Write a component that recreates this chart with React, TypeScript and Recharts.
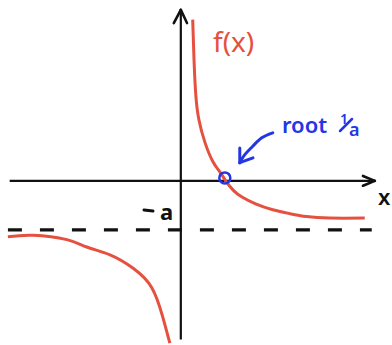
import { ComposedChart, Line, ReferenceDot, ReferenceLine, XAxis, YAxis } from 'recharts';

// f(x) = 1/x - a, sketched by hand: values sampled along each branch
const RIGHT_X = [0.27, 0.3, 0.34, 0.41, 0.55, 0.73, 0.89, 1.02, 1.2, 1.39, 1.7, 2.09, 2.48, 2.86, 3.39, 4.18];
const RIGHT_Y = [3.29, 2.47, 1.76, 1.25, 0.78, 0.39, 0.18, 0, -0.2, -0.33, -0.47, -0.59, -0.67, -0.73, -0.76, -0.76];
const LEFT_X = [-3.93, -3.36, -2.59, -2.14, -1.61, -1.09, -0.66, -0.41, -0.25];
const LEFT_Y = [-1.14, -1.11, -1.2, -1.35, -1.51, -1.78, -2.18, -2.78, -3.31];

// pointer from the "root" note down to the crossing
const POINTER_X = [2.09, 1.84, 1.64, 1.45, 1.34];
const POINTER_Y = [0.98, 0.88, 0.71, 0.53, 0.37];

const ROOT_X = 1;
const ASYMPTOTE_Y = -1;

const X_DOMAIN = [-4.11, 4.8];
const Y_DOMAIN = [-3.35, 3.69];

const rightBranch = RIGHT_X.map((x, i) => ({ x, y: RIGHT_Y[i] }));
const leftBranch = LEFT_X.map((x, i) => ({ x, y: LEFT_Y[i] }));
const pointer = POINTER_X.map((x, i) => ({ x, y: POINTER_Y[i] }));

const RED = '#e5503f';
const BLUE = '#2436e4';
const INK = '#111';
const FONT = '"Noto Sans", sans-serif';

const noDot = () => null;

export default function App() {
  return (
    <div style={{ position: 'absolute', left: 0, top: 0, width: 392, height: 345, background: '#fff' }}>
      <ComposedChart width={392} height={345} margin={{ top: 0, right: 0, bottom: 0, left: 0 }}>
        <XAxis type="number" dataKey="x" domain={X_DOMAIN} allowDataOverflow hide />
        <YAxis type="number" dataKey="y" domain={Y_DOMAIN} allowDataOverflow hide />

        {/* axes with arrowheads */}
        <ReferenceLine segment={[{ x: -3.89, y: 0 }, { x: 4.41, y: 0 }]} stroke={INK} strokeWidth={2.2} />
        <ReferenceLine segment={[{ x: 4.14, y: 0.1 }, { x: 4.41, y: 0 }]} stroke={INK} strokeWidth={2.6} strokeLinecap="round" />
        <ReferenceLine segment={[{ x: 4.14, y: -0.1 }, { x: 4.41, y: 0 }]} stroke={INK} strokeWidth={2.6} strokeLinecap="round" />
        <ReferenceLine segment={[{ x: 0, y: -3.24 }, { x: 0, y: 3.49 }]} stroke={INK} strokeWidth={2.2} />
        <ReferenceLine segment={[{ x: -0.16, y: 3.22 }, { x: 0, y: 3.49 }]} stroke={INK} strokeWidth={2.6} strokeLinecap="round" />
        <ReferenceLine segment={[{ x: 0.14, y: 3.22 }, { x: 0, y: 3.49 }]} stroke={INK} strokeWidth={2.6} strokeLinecap="round" />

        {/* horizontal asymptote y = -a */}
        <ReferenceLine
          segment={[{ x: -3.93, y: ASYMPTOTE_Y }, { x: 4.34, y: ASYMPTOTE_Y }]}
          stroke={INK}
          strokeWidth={3.2}
          strokeDasharray="14 18"
        />

        <Line data={leftBranch} dataKey="y" type="natural" stroke={RED} strokeWidth={3} dot={noDot} activeDot={false} isAnimationActive={false} />
        <Line data={rightBranch} dataKey="y" type="natural" stroke={RED} strokeWidth={3} dot={noDot} activeDot={false} isAnimationActive={false} />

        <Line data={pointer} dataKey="y" type="natural" stroke={BLUE} strokeWidth={3} dot={noDot} activeDot={false} strokeLinecap="round" isAnimationActive={false} />
        <ReferenceLine segment={[{ x: 1.34, y: 0.67 }, { x: 1.34, y: 0.37 }]} stroke={BLUE} strokeWidth={3} strokeLinecap="round" />
        <ReferenceLine segment={[{ x: 1.64, y: 0.47 }, { x: 1.34, y: 0.37 }]} stroke={BLUE} strokeWidth={3} strokeLinecap="round" />

        <ReferenceDot x={ROOT_X} y={0.06} r={5.5} fill="none" stroke={BLUE} strokeWidth={2.5} />

        <text x={213} y={52} fill={RED} fontFamily={FONT} fontSize={28}>f(x)</text>
        <text x={282} y={133} fill={BLUE} fontFamily={FONT} fontSize={22} fontWeight={600}>root</text>
        <text x={340} y={124} fill={BLUE} fontFamily={FONT} fontSize={14} fontWeight={600}>1</text>
        <line x1={340} y1={131} x2={352} y2={119} stroke={BLUE} strokeWidth={2.5} strokeLinecap="round" />
        <text x={349} y={136} fill={BLUE} fontFamily={FONT} fontSize={18} fontWeight={600}>a</text>
        <line x1={144} y1={210} x2={153} y2={211} stroke={INK} strokeWidth={3} strokeLinecap="round" />
        <text x={160} y={220} fill={INK} fontFamily={FONT} fontSize={22} fontWeight={700}>a</text>
        <text x={378} y={205} fill={INK} fontFamily={FONT} fontSize={22} fontWeight={600}>x</text>
      </ComposedChart>
    </div>
  );
}
